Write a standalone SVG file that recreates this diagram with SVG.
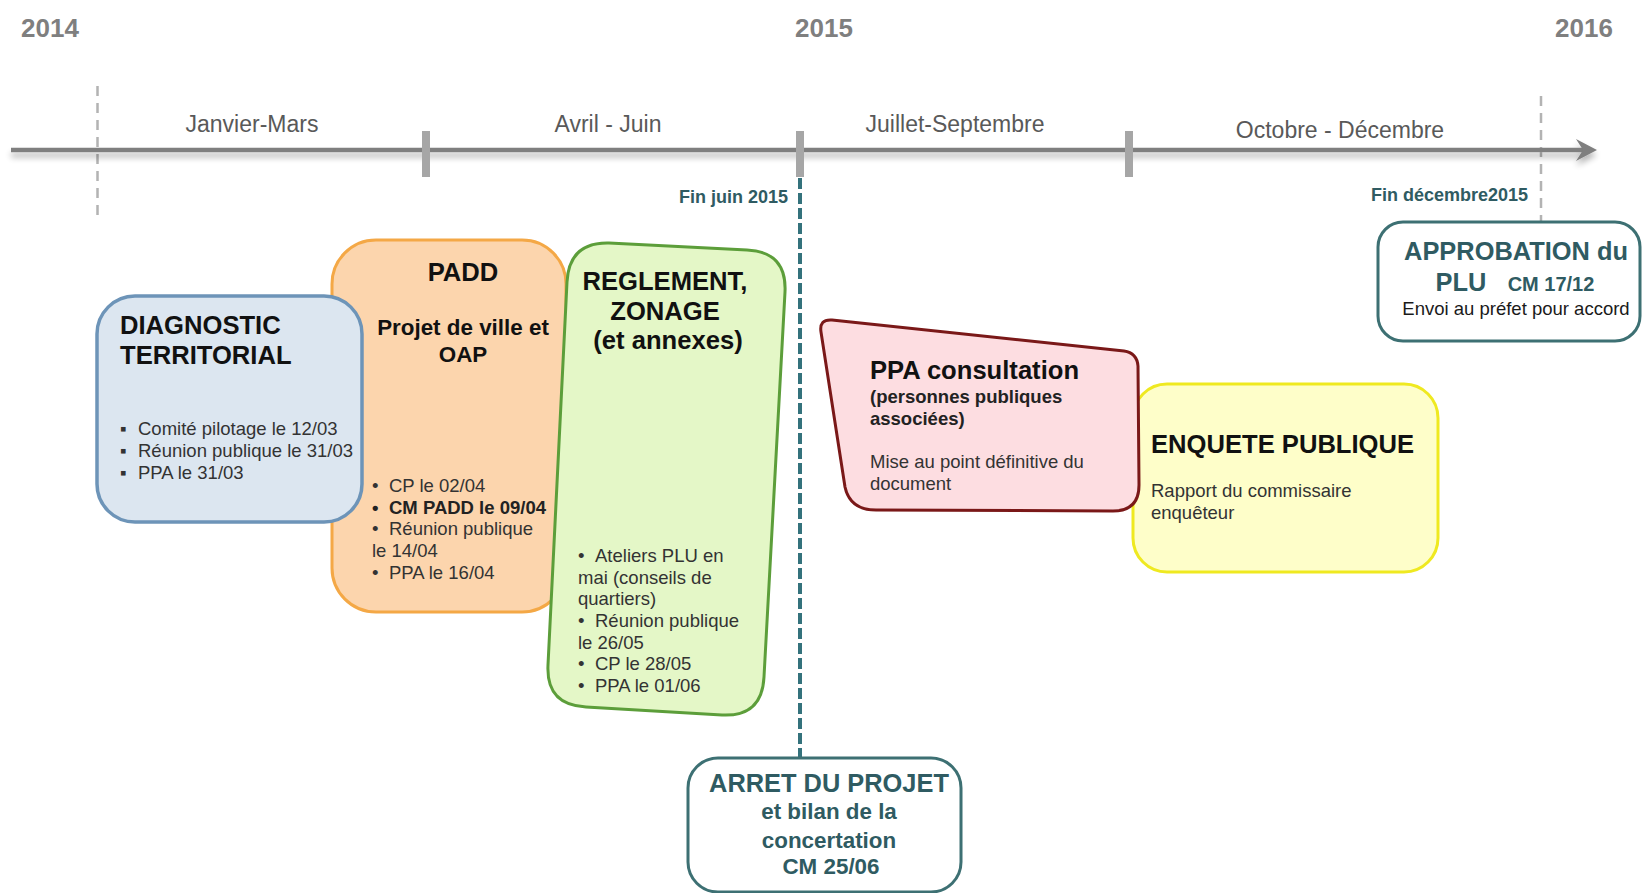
<svg xmlns="http://www.w3.org/2000/svg" width="1645" height="893" viewBox="0 0 1645 893">
<style>
text{font-family:"Liberation Sans",Arial,sans-serif}
.yr{font-size:26px;font-weight:bold;fill:#7f7f7f}
.qt{font-size:23px;fill:#595959;text-anchor:middle}
.fin{font-size:18px;font-weight:bold;fill:#2f5b62;text-anchor:end}
.tt{font-size:25.6px;font-weight:bold;fill:#111}
.st{font-size:22.4px;font-weight:bold;fill:#111}
.bl{font-size:18.5px;fill:#333}
.blb{font-size:18.5px;fill:#222;font-weight:bold}
.tl{font-size:25.4px;font-weight:bold;fill:#2f5b62;text-anchor:middle}
.tls{font-size:22.4px;font-weight:bold;fill:#2f5b62;text-anchor:middle}
.mid{text-anchor:middle}
</style>
<defs>
<filter id="sh" x="-5%" y="-200%" width="110%" height="500%">
<feGaussianBlur in="SourceAlpha" stdDeviation="3"/>
<feOffset dy="5"/>
<feComponentTransfer><feFuncA type="linear" slope="0.3"/></feComponentTransfer>
<feMerge><feMergeNode/><feMergeNode in="SourceGraphic"/></feMerge>
</filter>
</defs>
<rect width="1645" height="893" fill="#fff"/>
<g id="timeline">
<text class="yr" x="21" y="37">2014</text>
<text class="yr" x="795" y="37">2015</text>
<text class="yr" x="1555" y="37">2016</text>
<text class="qt" x="252" y="132">Janvier-Mars</text>
<text class="qt" x="608" y="132">Avril - Juin</text>
<text class="qt" x="955" y="132">Juillet-Septembre</text>
<text class="qt" x="1340" y="138">Octobre - Décembre</text>
<line x1="97.5" y1="86" x2="97.5" y2="215" stroke="#b3b3b3" stroke-width="2.5" stroke-dasharray="10,7"/>
<line x1="1541" y1="96" x2="1541" y2="222" stroke="#b3b3b3" stroke-width="2.5" stroke-dasharray="10,7"/>
<g filter="url(#sh)">
<line x1="11" y1="150" x2="1585" y2="150" stroke="#7f7f7f" stroke-width="4.5"/>
<path d="M1576,139 L1597,150 L1576,161 L1583,150 Z" fill="#7f7f7f"/>
</g>
<rect x="422" y="131" width="8" height="46" fill="#a6a6a6"/>
<rect x="796" y="131" width="8" height="46" fill="#a6a6a6"/>
<rect x="1125" y="131" width="8" height="46" fill="#a6a6a6"/>
<text class="fin" x="788" y="203">Fin juin 2015</text>
<text class="fin" x="1528" y="201">Fin décembre2015</text>
</g>
<g id="connectors">
<line x1="800" y1="178" x2="800" y2="758" stroke="#34727c" stroke-width="4" stroke-dasharray="11,4"/>
</g>
<g id="padd">
<rect x="332" y="240" width="234" height="372" rx="44" fill="#fcd5ad" stroke="#f4a846" stroke-width="3"/>
<text class="tt mid" x="463" y="281">PADD</text>
<text class="st mid" x="463" y="335">Projet de ville et</text>
<text class="st mid" x="463" y="362">OAP</text>
<text class="bl" x="372" y="492">•</text><text class="bl" x="389" y="492">CP le 02/04</text>
<text class="blb" x="372" y="514">•</text><text class="blb" x="389" y="514">CM PADD le 09/04</text>
<text class="bl" x="372" y="535">•</text><text class="bl" x="389" y="535">Réunion publique</text>
<text class="bl" x="372" y="557">le 14/04</text>
<text class="bl" x="372" y="579">•</text><text class="bl" x="389" y="579">PPA le 16/04</text>
</g>
<g id="reglement">
<path d="M609,243 L747,250 Q787,252 785,292 L764,677 Q762,717 722,715 L586,707 Q546,705 548,665 L567,282 Q569,242 609,243 Z" fill="#e4f7c7" stroke="#5c9e3a" stroke-width="3"/>
<text class="tt mid" x="665" y="290">REGLEMENT,</text>
<text class="tt mid" x="665" y="320">ZONAGE</text>
<text class="tt mid" x="668" y="349">(et annexes)</text>
<text class="bl" x="578" y="562">•</text><text class="bl" x="595" y="562">Ateliers PLU en</text>
<text class="bl" x="578" y="584">mai (conseils de</text>
<text class="bl" x="578" y="605">quartiers)</text>
<text class="bl" x="578" y="627">•</text><text class="bl" x="595" y="627">Réunion publique</text>
<text class="bl" x="578" y="649">le 26/05</text>
<text class="bl" x="578" y="670">•</text><text class="bl" x="595" y="670">CP le 28/05</text>
<text class="bl" x="578" y="692">•</text><text class="bl" x="595" y="692">PPA le 01/06</text>
</g>
<g id="diagnostic">
<rect x="97" y="296" width="265" height="226" rx="38" fill="#dce6f0" stroke="#6d94b8" stroke-width="3.5"/>
<text class="tt" x="120" y="334">DIAGNOSTIC</text>
<text class="tt" x="120" y="364">TERRITORIAL</text>
<text class="bl" x="120" y="435">▪</text><text class="bl" x="138" y="435">Comité pilotage le 12/03</text>
<text class="bl" x="120" y="457">▪</text><text class="bl" x="138" y="457">Réunion publique le 31/03</text>
<text class="bl" x="120" y="479">▪</text><text class="bl" x="138" y="479">PPA le 31/03</text>
</g>
<g id="enquete">
<rect x="1133" y="384" width="305" height="188" rx="34" fill="#fefec9" stroke="#efe920" stroke-width="3"/>
<text class="tt" x="1151" y="453">ENQUETE PUBLIQUE</text>
<text class="bl" x="1151" y="497">Rapport du commissaire</text>
<text class="bl" x="1151" y="519">enquêteur</text>
</g>
<g id="ppa">
<path d="M832,320 L1124,351 Q1137,353 1138,366 L1139,485 Q1139,511 1113,511 L876,510 Q850,510 845,487 L821,332 Q819,319 832,320 Z" fill="#fddde1" stroke="#7a1818" stroke-width="3"/>
<text class="tt" x="870" y="379">PPA consultation</text>
<text class="blb" x="870" y="403">(personnes publiques</text>
<text class="blb" x="870" y="425">associées)</text>
<text class="bl" x="870" y="468">Mise au point définitive du</text>
<text class="bl" x="870" y="490">document</text>
</g>
<g id="approbation">
<rect x="1378" y="222" width="262" height="119" rx="25" fill="#fff" stroke="#3d7073" stroke-width="3"/>
<text class="tl" x="1516" y="260">APPROBATION du</text>
<text class="tl" x="1461" y="291">PLU</text>
<text class="tls" x="1551" y="291" style="font-size:20px">CM 17/12</text>
<text class="bl mid" x="1516" y="315" style="fill:#1a1a1a">Envoi au préfet pour accord</text>
</g>
<g id="arret">
<rect x="688" y="758" width="273" height="134" rx="30" fill="#fff" stroke="#3d7073" stroke-width="3"/>
<text class="tl" x="829" y="792">ARRET DU PROJET</text>
<text class="tls" x="829" y="819">et bilan de la</text>
<text class="tls" x="829" y="848">concertation</text>
<text class="tls" x="831" y="874">CM 25/06</text>
</g>
</svg>
